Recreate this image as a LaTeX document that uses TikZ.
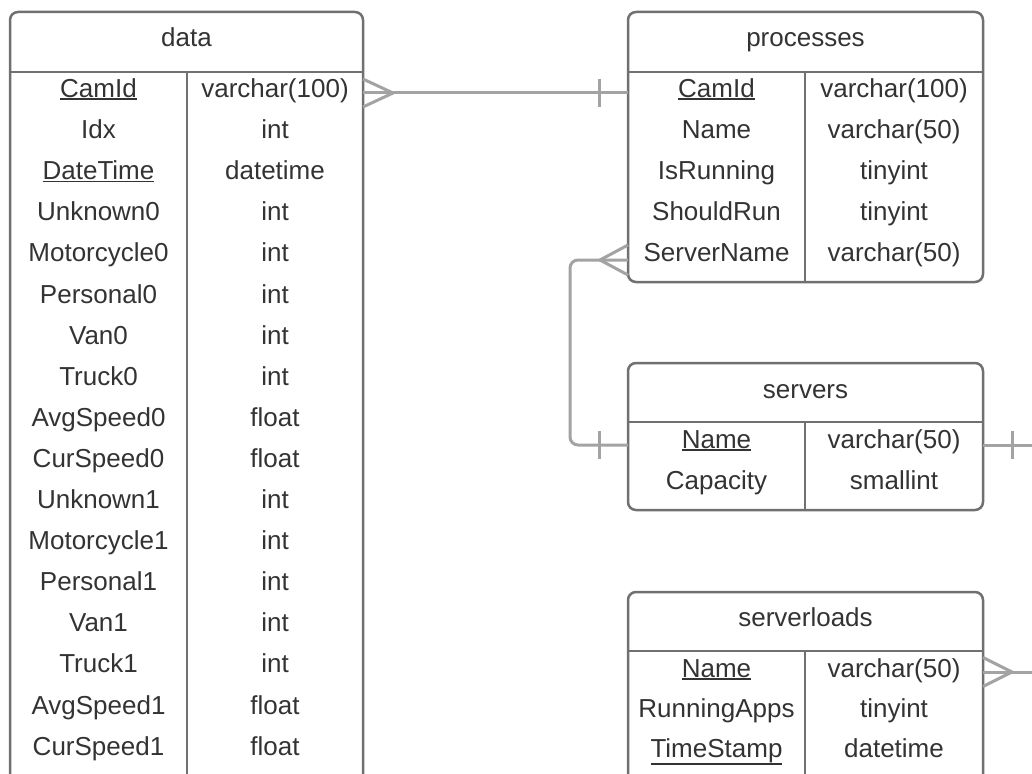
\documentclass[tikz,border=0pt]{standalone}
\usepackage{fontspec}
\setmainfont{Liberation Sans}
\definecolor{bordercol}{HTML}{707070}
\definecolor{conncol}{HTML}{A3A3A3}
\definecolor{txtcol}{HTML}{333333}
\newcommand\ulx[1]{\setbox0\hbox{#1}\leavevmode\rlap{\rule[\dimexpr-\dp0-2.5pt\relax]{\wd0}{1.8pt}}\box0}
\begin{document}
\begin{tikzpicture}[x=1pt,y=-1pt,
  tbl/.style={draw=bordercol, line width=2.5pt, rounded corners=8pt, fill=white, anchor=north west, inner sep=0pt, outer sep=0pt},
  sepline/.style={draw=bordercol, line width=2.5pt},
  cell/.style={anchor=base, text=txtcol, font=\fontsize{26}{30}\selectfont, inner sep=0pt},
  connline/.style={draw=conncol, line width=3pt}]
\clip (0,0) rectangle (1032,773);
\fill[white] (0,0) rectangle (1032,773);

% tables
\node[tbl, minimum width=353pt, minimum height=800pt] (data) at (10,12) {};
\node[tbl, minimum width=355pt, minimum height=270pt] (processes) at (628,12) {};
\node[tbl, minimum width=355pt, minimum height=147pt] (servers) at (628,363) {};
\node[tbl, minimum width=355pt, minimum height=220pt] (serverloads) at (628,592) {};

% header lines and dividers
\draw[sepline] (data.west |- 0,72) -- (data.east |- 0,72);
\draw[sepline] (187,72) -- (187,0 |- data.south);
\draw[sepline] (processes.west |- 0,72) -- (processes.east |- 0,72);
\draw[sepline] (805,72) -- (805,0 |- processes.south);
\draw[sepline] (servers.west |- 0,422) -- (servers.east |- 0,422);
\draw[sepline] (805,422) -- (805,0 |- servers.south);
\draw[sepline] (serverloads.west |- 0,651) -- (serverloads.east |- 0,651);
\draw[sepline] (805,651) -- (805,0 |- serverloads.south);

% headers
\node[cell] (dataH) at (186.5,47) {data};
\node[cell] (procH) at (805.5,47) {processes};
\node[cell] (servH) at (805.5,398) {servers};
\node[cell] (slH) at (805.5,626) {serverloads};

% data rows
\foreach \n/\t [count=\i] in {\ulx{CamId}/varchar(100), Idx/int, \ulx{DateTime}/datetime,
  Unknown0/int, Motorcycle0/int, Personal0/int, Van0/int, Truck0/int, AvgSpeed0/float,
  CurSpeed0/float, Unknown1/int, Motorcycle1/int, Personal1/int, Van1/int, Truck1/int,
  AvgSpeed1/float, CurSpeed1/float}{
  \node[cell] (dn\i) at (98.5,{97.5+41.1*(\i-1)}) {\n};
  \node[cell] (dt\i) at (275,{97.5+41.1*(\i-1)}) {\t};
}

% processes rows
\foreach \n/\t [count=\i] in {\ulx{CamId}/varchar(100), Name/varchar(50), IsRunning/tinyint,
  ShouldRun/tinyint, ServerName/varchar(50)}{
  \node[cell] (pn\i) at (716.5,{97.5+41*(\i-1)}) {\n};
  \node[cell] (pt\i) at (894,{97.5+41*(\i-1)}) {\t};
}

% servers rows
\node[cell] (sn1) at (716.5,448) {\ulx{Name}};
\node[cell] (st1) at (894,448) {varchar(50)};
\node[cell] (sn2) at (716.5,489) {Capacity};
\node[cell] (st2) at (894,489) {smallint};

% serverloads rows
\node[cell] (ln1) at (716.5,677) {\ulx{Name}};
\node[cell] (lt1) at (894,677) {varchar(50)};
\node[cell] (ln2) at (716.5,717) {RunningApps};
\node[cell] (lt2) at (894,717) {tinyint};
\node[cell] (ln3) at (716.5,757) {\ulx{TimeStamp}};
\node[cell] (lt3) at (894,757) {datetime};

% connector data -> processes
\coordinate (c1a) at (data.east |- 0,93);
\coordinate (c1b) at (processes.west |- 0,93);
\draw[connline] (c1a) -- (c1b);
\draw[connline] ([yshift=14pt]c1a) -- ([xshift=30pt]c1a) -- ([yshift=-14pt]c1a);
\draw[connline] ([xshift=-29pt,yshift=14pt]c1b) -- ([xshift=-29pt,yshift=-14pt]c1b);

% connector processes -> servers
\coordinate (c2a) at (processes.west |- 0,260);
\coordinate (c2b) at (servers.west |- 0,445);
\draw[connline, rounded corners=8pt] (c2a) -- ++(-58,0) |- (c2b);
\draw[connline] ([yshift=15pt]c2a) -- ([xshift=-28pt]c2a) -- ([yshift=-15pt]c2a);
\draw[connline] ([xshift=-29pt,yshift=14pt]c2b) -- ([xshift=-29pt,yshift=-14pt]c2b);

% connector servers -> off page
\coordinate (c3a) at (servers.east |- 0,445);
\coordinate (c3b) at (1045,445);
\draw[connline] (c3a) -- (c3b);
\draw[connline] ([xshift=29pt,yshift=14pt]c3a) -- ([xshift=29pt,yshift=-14pt]c3a);

% connector serverloads -> off page
\coordinate (c4a) at (serverloads.east |- 0,672);
\coordinate (c4b) at (1045,672);
\draw[connline] (c4a) -- (c4b);
\draw[connline] ([yshift=14.5pt]c4a) -- ([xshift=29pt]c4a) -- ([yshift=-14.5pt]c4a);
\end{tikzpicture}
\end{document}
